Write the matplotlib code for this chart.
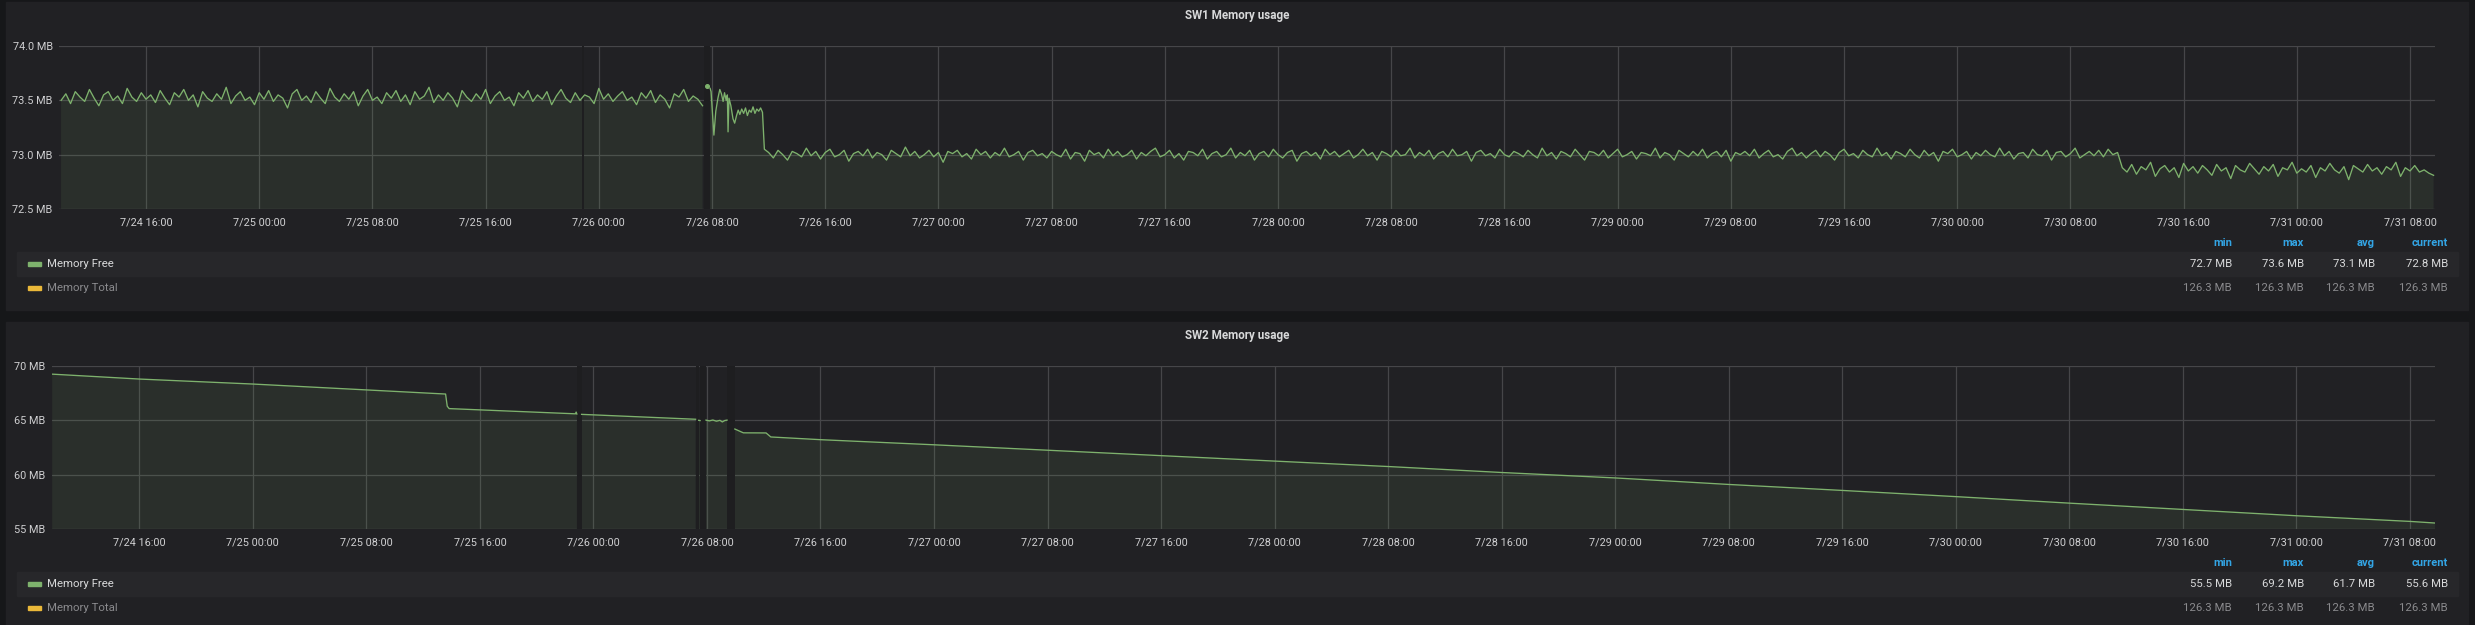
import numpy as np
import pandas as pd
import matplotlib.pyplot as plt
import matplotlib.dates as mdates
from matplotlib.patches import Rectangle

plt.rcParams['font.family'] = ['Roboto', 'DejaVu Sans']

W, H = 2475, 625
BG = '#161719'
PANEL = '#212124'
GRID = '#464649'
TXT = '#d8d9da'
DIM = '#8a8a8d'
BLUE = '#33a5e5'
GREEN = '#7eb26d'
YELLOW = '#eab839'
GAP = '#1e1e20'

x_start = "2019-07-24 09:51"
x_end = "2019-07-31 09:46"

# ---- SW1 memory free (MB) ----
# part A, every 20 min from 7/24 10:00, values are 73.xx (hundredths)
sw1_a_start = "2019-07-24 10:00"
sw1_a = [50, 56, 47, 58, 53, 49, 60, 52, 45, 55, 58, 50, 54, 47, 61, 53, 49, 57, 51, 55,
         48, 59, 52, 46, 57, 53, 60, 50, 55, 44, 58, 52, 49, 56, 51, 62, 47, 54, 58, 50,
         53, 46, 57, 51, 59, 49, 55, 52, 43, 56, 60, 50, 54, 48, 58, 52, 47, 61, 53, 49,
         56, 51, 58, 45, 54, 60, 50, 53, 47, 57, 52, 59, 49, 55, 46, 58, 51, 54, 62, 48,
         55, 50, 57, 52, 44, 59, 53, 49, 56, 51, 60, 47, 54, 58, 50, 53, 45, 57, 52, 59,
         49, 55, 51, 58, 46, 54, 60, 52, 48, 57, 50, 55, 53, 47, 61, 51, 56, 49, 54, 58,
         50, 53, 46, 57, 52, 59, 48, 55, 51, 43, 56, 53, 60, 49, 54, 51, 45]
# part B, restart around 7/26 08:00
sw1_b_times = ["07:30", "07:39", "07:46", "07:52", "07:56", "08:08", "08:16", "08:25",
               "08:33", "08:40", "08:47", "08:53", "09:00", "09:05", "09:08", "09:12",
               "09:20", "09:29", "09:36", "09:44", "09:51", "09:58", "10:06", "10:14",
               "10:22", "10:30", "10:38", "10:46", "10:54", "11:02", "11:10", "11:18",
               "11:26", "11:34", "11:42"]
sw1_b = [None, 73.63, None, 73.61, 73.58, 73.18, 73.40, 73.52,
         73.60, 73.56, 73.49, 73.57, 73.50, 73.55, 73.21, 73.52,
         73.45, 73.33, 73.29, 73.36, 73.41, 73.37, 73.42, 73.38,
         73.43, 73.36, 73.41, 73.39, 73.44, 73.38, 73.42, 73.40,
         73.43, 73.39, 73.05]
# part C, every 20 min from 7/26 12:00, offsets from 73.00 (hundredths)
sw1_c_start = "2019-07-26 12:00"
sw1_c = [2, -3, 4, 0, -5, 3, 1, -2, 6, -1, 3, -4, 2, 5, -2, 0, 4, -6, 1, 3,
         -1, 5, -3, 2, 0, -5, 4, 1, -2, 7, -1, 3, -3, 0, 4, -2, 2, -7, 3, 1,
         4, -2, 1, -4, 5, 0, 3, -3, 2, -1, 6, -2, 0, 3, -5, 2, 4, -1, 1, -3,
         3, 0, -2, 5, -4, 2, 1, -6, 4, 0, 2, -3, 5, -1, 3, -2, 0, 4, -4, 2,
         -1, 3, 6, -2, 0, 4, -3, 1, -5, 3, 2, -1, 5, -4, 1, 3, -2, 0, 6, -3,
         2, -1, 4, -5, 1, 3, -2, 5, 0, -3, 2, 4, -6, 1, 3, -1, 2, -4, 5, 0,
         3, -2, 1, 4, -3, 0, 5, -1, 2, -5, 3, 1, -2, 4, -1, 0, 6, -3, 2, -1,
         4, -4, 1, 3, -2, 5, -1, 0, 3, -6, 2, 4, -1, 1, -3, 5, 0, -2, 3, 1,
         -2, 4, 0, -3, 6, -1, 2, -4, 3, 1, -2, 5, 0, -5, 3, 2, -1, 4, -3, 1,
         5, -2, 0, 3, -4, 2, 1, -1, 6, -3, 2, 0, -5, 4, 1, -2, 3, -1, 5, -3,
         1, 3, -2, 4, -6, 2, 0, 3, -1, 5, -3, 1, 4, -2, 0, -4, 3, 6, -1, 2,
         -3, 1, 4, -2, 3, 0, -5, 2, 5, -1, 1, -3, 4, 0, -2, 6, -1, 2, -4, 3,
         1, -2, 5, 0, -3, 4, -1, 2, -6, 3, 1, 5, -2, 0, 3, -4, 2, -1, 4, 0,
         -2, 6, -1, 3, -4, 1, 2, -3, 5, 0, -1, 4, -5, 2, 3, -2, 1, 6, -3, 0,
         3, -1, 4, -2, 5, 0, 2]
# part D, every 20 min from 7/30 11:40, values are 72.xx (hundredths)
sw1_d_start = "2019-07-30 11:40"
sw1_d = [88, 84, 91, 82, 89, 86, 93, 80, 87, 90, 84, 88, 79, 92, 85, 89, 83, 90, 86, 81,
         91, 85, 88, 78, 90, 86, 84, 92, 87, 82, 89, 85, 91, 80, 88, 86, 93, 83, 87, 84,
         90, 79, 88, 85, 92, 86, 83, 89, 77, 90, 87, 84, 91, 85, 88, 82, 89, 86, 93, 80,
         88, 85, 90, 84, 86, 83, 81]
sw1_gaps = [("2019-07-25 22:49", "2019-07-25 22:58"),
            ("2019-07-26 07:24", "2019-07-26 07:52")]

# ---- SW2 memory free (MB) ----
sw2_times = ["07-24 09:52", "07-24 16:00", "07-25 00:00", "07-25 08:00", "07-25 13:35",
             "07-25 13:42", "07-25 13:50", "07-25 22:44", "07-25 22:47", "07-25 22:50",
             "07-25 23:00", "07-25 23:10", "07-26 07:12", "07-26 07:19", "07-26 07:25",
             "07-26 07:31", "07-26 07:44", "07-26 07:56", "07-26 08:10", "07-26 08:25",
             "07-26 08:40", "07-26 08:55", "07-26 09:05", "07-26 09:15", "07-26 09:25",
             "07-26 09:40", "07-26 09:58", "07-26 10:34", "07-26 12:10", "07-26 12:30",
             "07-26 16:00", "07-27 00:00", "07-27 08:00", "07-27 16:00", "07-28 00:00",
             "07-28 08:00", "07-28 16:00", "07-29 00:00", "07-29 08:00", "07-29 16:00",
             "07-30 00:00", "07-30 08:00", "07-30 16:00", "07-31 00:00", "07-31 08:00",
             "07-31 09:46"]
sw2_vals = [69.25, 68.80, 68.34, 67.80, 67.42,
            66.30, 66.08, 65.60, 65.76, 65.58,
            None, 65.55, 65.10, None, 65.00,
            64.98, None, 65.02, 64.95, 65.03,
            64.92, 65.00, 64.85, 64.98, 65.02,
            None, 64.20, 63.85, 63.84, 63.47,
            63.22, 62.75, 62.25, 61.75, 61.25,
            60.75, 60.20, 59.70, 59.10, 58.55,
            57.98, 57.38, 56.80, 56.22, 55.70,
            55.55]
sw2_gaps = [("2019-07-25 22:51", "2019-07-25 23:10"),
            ("2019-07-26 07:13", "2019-07-26 07:25"),
            ("2019-07-26 07:32", "2019-07-26 07:56"),
            ("2019-07-26 09:26", "2019-07-26 09:58")]

sw1_stats = ["72.7 MB", "73.6 MB", "73.1 MB", "72.8 MB"]
sw2_stats = ["55.5 MB", "69.2 MB", "61.7 MB", "55.6 MB"]
total_stats = ["126.3 MB", "126.3 MB", "126.3 MB", "126.3 MB"]
stat_names = ["min", "max", "avg", "current"]


def build_sw1():
    t_a = pd.date_range(sw1_a_start, periods=len(sw1_a), freq="20min")
    t_b = pd.to_datetime(["2019-07-26 " + s for s in sw1_b_times])
    t_c = pd.date_range(sw1_c_start, periods=len(sw1_c), freq="20min")
    t_d = pd.date_range(sw1_d_start, periods=len(sw1_d), freq="20min")
    v_a = 73 + np.array(sw1_a) / 100
    v_b = np.array([np.nan if v is None else v for v in sw1_b])
    v_c = 73 + np.array(sw1_c) / 100
    v_d = 72 + np.array(sw1_d) / 100
    t = np.concatenate([t_a.values, t_b.values, t_c.values, t_d.values])
    v = np.concatenate([v_a, v_b, v_c, v_d])
    return t, v


def build_sw2():
    t = pd.to_datetime(["2019-" + s for s in sw2_times]).values
    v = np.array([np.nan if x is None else x for x in sw2_vals])
    return t, v


def fx(x):
    return x / W


def fy(y):
    return 1 - y / H


def px_axes(fig, x0, y0, x1, y1):
    return fig.add_axes([fx(x0), fy(y1), (x1 - x0) / W, (y1 - y0) / H])


def fmt_date(x, pos=None):
    d = mdates.num2date(x)
    return f"{d.month}/{d.day} {d:%H:%M}"


def draw_panel(fig, top, title, t, v, gaps, ax_left, ylim, yticks, ylabels, stats):
    # panel background
    fig.add_artist(Rectangle((fx(6), fy(top + 308)), (2468 - 6) / W, 308 / H,
                             transform=fig.transFigure, color=PANEL, zorder=0))
    fig.text(fx(1237), fy(top + 14), title, color=TXT, fontsize=8.4,
             fontweight='bold', ha='center', va='center')

    ax = px_axes(fig, ax_left, top + 44, 2435, top + 207)
    ax.set_facecolor('none')
    ax.set_axisbelow(True)
    for s in ax.spines.values():
        s.set_visible(False)

    ax.fill_between(t, v, ylim[0], color=GREEN, alpha=0.1, lw=0, zorder=1)
    for g0, g1 in gaps:
        ax.axvspan(pd.Timestamp(g0), pd.Timestamp(g1), color=GAP, lw=0, zorder=1.5)
    ax.plot(t, v, color=GREEN, lw=0.95, zorder=2)

    # single points with no neighbours are drawn as dots
    fin = np.isfinite(v)
    prev_nan = np.r_[True, ~fin[:-1]]
    next_nan = np.r_[~fin[1:], True]
    lone = fin & prev_nan & next_nan
    ax.plot(t[lone], v[lone], 'o', color=GREEN, ms=2.6, zorder=2)

    ax.set_xlim(pd.Timestamp(x_start), pd.Timestamp(x_end))
    ax.set_ylim(*ylim)
    ax.set_yticks(yticks)
    ax.set_yticklabels(ylabels)
    ax.xaxis.set_major_locator(mdates.HourLocator(byhour=[0, 8, 16]))
    ax.xaxis.set_major_formatter(plt.FuncFormatter(fmt_date))
    ax.grid(True, color=GRID, lw=0.9)
    ax.tick_params(length=0, colors='#cfcfd1', labelsize=7.8)
    ax.tick_params(axis='x', pad=6)
    ax.tick_params(axis='y', pad=4.5)

    # legend
    row1 = top + 262
    row2 = top + 286
    fig.add_artist(Rectangle((fx(17), fy(row1 + 12)), (2458 - 17) / W, 24 / H,
                             transform=fig.transFigure, color='#27272a', zorder=0.5))
    fig.add_artist(Rectangle((fx(28), fy(row1 + 2)), 13 / W, 4 / H,
                             transform=fig.transFigure, color=GREEN, zorder=1))
    fig.add_artist(Rectangle((fx(28), fy(row2 + 2)), 13 / W, 4 / H,
                             transform=fig.transFigure, color=YELLOW, zorder=1))
    fig.text(fx(47), fy(row1), "Memory Free", color=TXT, fontsize=8.2, va='center')
    fig.text(fx(47), fy(row2), "Memory Total", color=DIM, fontsize=8.2, va='center')

    cols = [2232, 2304, 2375, 2448]
    for cx, name, s1, s2 in zip(cols, stat_names, stats, total_stats):
        fig.text(fx(cx), fy(top + 241), name, color=BLUE, fontsize=8.0,
                 fontweight='bold', ha='right', va='center')
        fig.text(fx(cx), fy(row1), s1, color=TXT, fontsize=8.2, ha='right', va='center')
        fig.text(fx(cx), fy(row2), s2, color=DIM, fontsize=8.2, ha='right', va='center')
    return ax


fig = plt.figure(figsize=(W / 100, H / 100), dpi=100)
fig.patch.set_facecolor(BG)

t1, v1 = build_sw1()
draw_panel(fig, 2, "SW1 Memory usage", t1, v1, sw1_gaps, 59,
           (72.5, 74.0), [72.5, 73.0, 73.5, 74.0],
           ["72.5 MB", "73.0 MB", "73.5 MB", "74.0 MB"], sw1_stats)

t2, v2 = build_sw2()
draw_panel(fig, 322, "SW2 Memory usage", t2, v2, sw2_gaps, 52,
           (55, 70), [55, 60, 65, 70],
           ["55 MB", "60 MB", "65 MB", "70 MB"], sw2_stats)

fig.savefig("out.png", dpi=100, facecolor=BG)
